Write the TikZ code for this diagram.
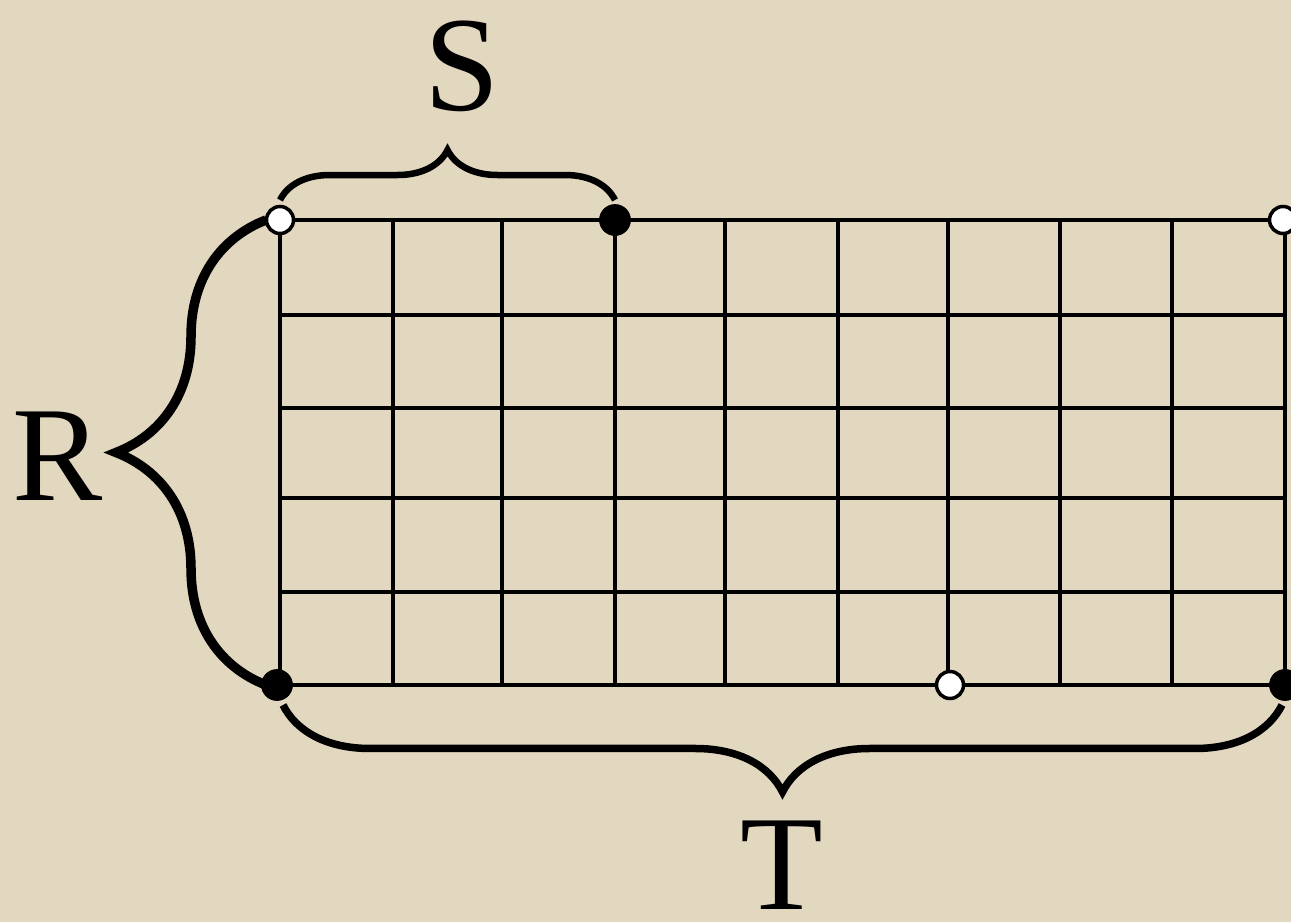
\documentclass[tikz,border=0pt]{standalone}
\usepackage{fontspec}
\setmainfont{Liberation Serif}
\usetikzlibrary{decorations.pathreplacing}
\definecolor{linen}{RGB}{226,216,192}
\tikzset{
  gridline/.style = {line width=0.07cm},
  open dot/.style = {circle,fill=white,draw=black,line width=0.07cm,minimum size=0.54cm,inner sep=0pt},
  full dot/.style = {circle,fill=black,draw=black,minimum size=0.62cm,inner sep=0pt},
  curly/.style = {decorate,decoration={brace,amplitude=#1}},
  big letter/.style = {font=\fontsize{77}{80}\selectfont,inner sep=0pt}
}
\begin{document}
\begin{tikzpicture}[x=0.02cm,y=-0.02cm]
  \fill[linen] (0,0) rectangle (1291,922);
  \useasboundingbox (0,0) rectangle (1291,922);

  % grid
  \foreach \x in {280,393,502,615,725,838,948,1060,1172,1285}
    \draw[gridline] (\x,220) -- (\x,685);
  \foreach \y in {220,315,408,498,592,685}
    \draw[gridline] (280,\y) -- (1285,\y);

  % brace ends
  \coordinate (S left) at (280,200);
  \coordinate (S right) at (615,200);
  \coordinate (R bottom) at (266,685);
  \coordinate (R top) at (266,220);
  \coordinate (T right) at (1282,705);
  \coordinate (T left) at (283,705);

  \draw[curly=1cm, line width=0.13cm] (S left) -- (S right);
  \draw[curly=3cm, line width=0.19cm] (R bottom) -- (R top);
  \draw[curly=1.74cm, line width=0.15cm] (T right) -- (T left);

  \node[big letter] (S) at (462,66) {S};
  \node[big letter] (R) at (58,456) {R};
  \node[big letter] (T) at (782,865) {T};

  % corner points
  \node[open dot] (top left) at (280,220) {};
  \node[full dot] (top mid) at (615,220) {};
  \node[open dot] (top right) at (1283,220) {};
  \node[full dot] (bottom left) at (277,685) {};
  \node[open dot] (bottom mid) at (950,685) {};
  \node[full dot] (bottom right) at (1285,685) {};
\end{tikzpicture}
\end{document}
